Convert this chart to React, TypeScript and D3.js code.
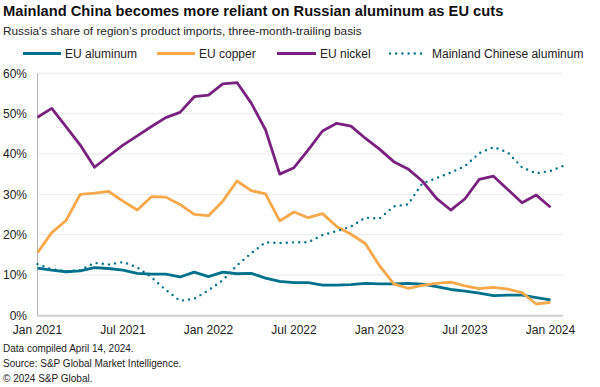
import React, { useEffect } from 'react';
import * as d3 from 'd3';

const title = 'Mainland China becomes more reliant on Russian aluminum as EU cuts';
const subtitle = "Russia's share of region's product imports, three-month-trailing basis";
const footnotes = ['Data compiled April 14, 2024.', 'Source: S&P Global Market Intelligence.', '© 2024 S&P Global.'];

// monthly, Jan 2021 .. Jan 2024 (Chinese series runs to Feb 2024)
const euAluminum = [
  11.7, 11.2, 10.8, 11.0, 11.8, 11.6, 11.2, 10.4, 10.2, 10.2,
  9.5, 10.7, 9.6, 10.7, 10.3, 10.4, 9.2, 8.4, 8.1, 8.1,
  7.5, 7.5, 7.6, 7.9, 7.8, 7.8, 7.9, 7.7, 7.1, 6.4,
  6.0, 5.5, 4.9, 5.0, 5.0, 4.4, 3.8,
];
const euCopper = [
  15.5, 20.5, 23.5, 30.0, 30.3, 30.7, 28.3, 26.1, 29.4, 29.3,
  27.5, 25.0, 24.7, 28.3, 33.3, 30.9, 30.1, 23.4, 25.6, 24.2,
  25.2, 22.0, 20.1, 17.8, 12.3, 7.8, 6.7, 7.4, 7.9, 8.2,
  7.3, 6.6, 6.9, 6.5, 5.6, 2.8, 3.2,
];
const euNickel = [
  49.1, 51.3, 46.8, 42.2, 36.7, 39.5, 42.2, 44.5, 46.8, 49.0,
  50.3, 54.2, 54.6, 57.4, 57.7, 52.6, 46.0, 35.0, 36.6, 41.0,
  45.7, 47.6, 46.9, 43.9, 41.2, 38.1, 36.3, 33.3, 29.0, 26.1,
  28.9, 33.7, 34.5, 31.2, 27.9, 29.8, 26.8,
];
const chinaAluminum = [
  12.7, 11.4, 10.9, 11.2, 13.0, 12.6, 13.2, 11.9, 9.4, 6.3,
  3.6, 4.1, 6.2, 8.7, 12.4, 15.4, 18.1, 17.9, 18.1, 18.1,
  19.9, 20.9, 22.0, 24.2, 24.0, 27.0, 27.5, 32.7, 34.0, 35.4,
  37.0, 40.2, 41.7, 40.4, 36.7, 35.2, 35.8, 37.2,
];

const yTicks = [0, 10, 20, 30, 40, 50, 60];
const xTickLabels = ['Jan 2021', 'Jul 2021', 'Jan 2022', 'Jul 2022', 'Jan 2023', 'Jul 2023', 'Jan 2024'];
const xTickMonths = [0, 6, 12, 18, 24, 30, 36];

const series = [
  { name: 'EU aluminum', values: euAluminum, color: '#00718c', dotted: false },
  { name: 'EU copper', values: euCopper, color: '#f6a84a', dotted: false },
  { name: 'EU nickel', values: euNickel, color: '#7a2180', dotted: false },
  { name: 'Mainland Chinese aluminum', values: chinaAluminum, color: '#00718c', dotted: true },
];
const legendX = [[23, 61, 65], [157, 195, 199], [277, 316, 320], [390, 426, 432]];

const W = 600;
const H = 387;
const font = '"Liberation Sans", Arial, sans-serif';

export default function App() {
  useEffect(() => {
    document.body.style.margin = '0';
  }, []);

  const x = d3.scaleLinear().domain([0, 36]).range([37.5, 550.5]);
  const y = d3.scaleLinear().domain([0, 60]).range([315.3, 73.3]);
  const line = d3
    .line<number>()
    .x((_, i) => x(i))
    .y(d => y(d));

  return (
    <svg width={W} height={H} style={{ display: 'block', fontFamily: font }}>
      <text x={3} y={16} fontSize={14.7} fontWeight="bold" fill="#111">{title}</text>
      <text x={3} y={34.5} fontSize={11.8} fill="#222">{subtitle}</text>

      {series.map((s, i) => (
        <g key={s.name}>
          <line
            x1={legendX[i][0]}
            x2={legendX[i][1]}
            y1={53.5}
            y2={53.5}
            stroke={s.color}
            strokeWidth={s.dotted ? 2.4 : 3}
            strokeLinecap={s.dotted ? 'round' : 'butt'}
            strokeDasharray={s.dotted ? '0 6.2' : undefined}
          />
          <text x={legendX[i][2]} y={57.5} fontSize={12} fill="#222">{s.name}</text>
        </g>
      ))}

      {yTicks.slice(1).map(t => (
        <line key={t} x1={37.5} x2={563} y1={y(t)} y2={y(t)} stroke="#ebebeb" strokeWidth={1} />
      ))}
      <line x1={37.5} x2={37.5} y1={y(60)} y2={y(0)} stroke="#b5b5b5" strokeWidth={1} />
      <line x1={37} x2={563} y1={y(0) + 0.5} y2={y(0) + 0.5} stroke="#cfcfcf" strokeWidth={2} />

      {yTicks.map(t => (
        <text key={t} x={27} y={y(t)} dy="0.35em" textAnchor="end" fontSize={12} fill="#222">{t}%</text>
      ))}
      {xTickMonths.map((m, i) => (
        <text key={m} x={x(m)} y={333.5} textAnchor="middle" fontSize={12} fill="#222">{xTickLabels[i]}</text>
      ))}

      {series.map(s => (
        <path
          key={s.name}
          d={line(s.values) || ''}
          fill="none"
          stroke={s.color}
          strokeWidth={s.dotted ? 2.4 : 2.8}
          strokeLinejoin="round"
          strokeLinecap={s.dotted ? 'round' : 'butt'}
          strokeDasharray={s.dotted ? '0 6.2' : undefined}
        />
      ))}

      {footnotes.map((f, i) => (
        <text key={f} x={3} y={351.7 + i * 15} fontSize={10} fill="#222">{f}</text>
      ))}
    </svg>
  );
}
